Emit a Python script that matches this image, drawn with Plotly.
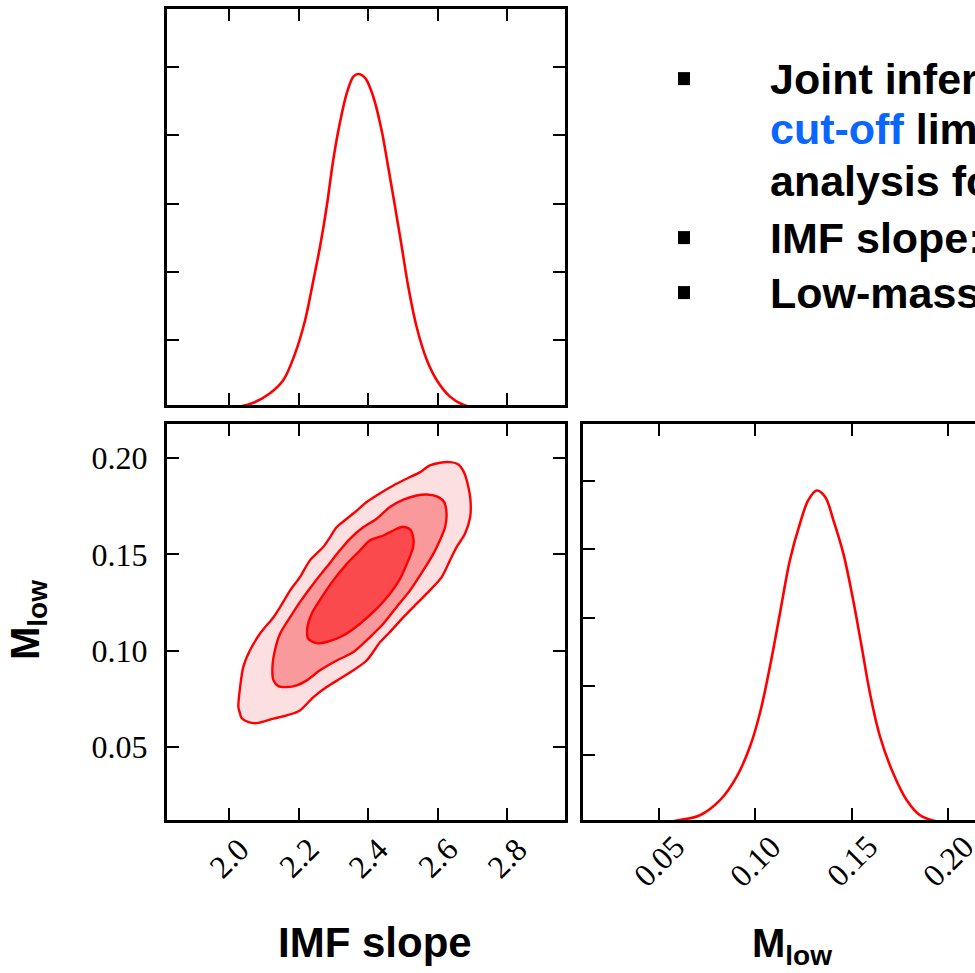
import plotly.graph_objects as go

# ---------------- data ----------------
# 1D marginal of IMF slope (arbitrary density units)
imf_x = [1.950, 2.000, 2.070, 2.118, 2.156, 2.190, 2.219, 2.243, 2.262, 2.281, 2.300, 2.319, 2.339,
         2.358, 2.372, 2.392, 2.415, 2.439, 2.458, 2.478, 2.497, 2.516, 2.540, 2.569, 2.598,
         2.636, 2.674, 2.720, 2.850]
imf_pdf = [0.00, 0.00, 0.08, 0.22, 0.41, 0.80, 1.29, 1.88, 2.37, 2.95, 3.64, 4.18, 4.62,
           4.86, 4.90, 4.84, 4.57, 4.08, 3.54, 2.95, 2.37, 1.78, 1.19, 0.71, 0.41,
           0.17, 0.05, 0.00, 0.00]

# 1D marginal of M_low
mlow_x = [0.0500, 0.0609, 0.0713, 0.0817, 0.0903, 0.0972, 0.1024, 0.1076, 0.1128, 0.1180,
          0.1232, 0.1275, 0.1319, 0.1362, 0.1405, 0.1457, 0.1508, 0.1552, 0.1595, 0.1647,
          0.1716, 0.1786, 0.1855, 0.1941, 0.2050]
mlow_pdf = [0.00, 0.05, 0.12, 0.34, 0.68, 1.12, 1.61, 2.29, 3.07, 3.85,
            4.38, 4.72, 4.86, 4.77, 4.43, 3.94, 3.26, 2.58, 1.90, 1.27,
            0.73, 0.34, 0.12, 0.03, 0.00]

# 2D credible contours (IMF slope, M_low)
outer_x = [2.032, 2.027, 2.032, 2.041, 2.060, 2.089, 2.128, 2.147, 2.176, 2.204, 2.233, 2.271,
           2.291, 2.310, 2.339, 2.363, 2.396, 2.435, 2.473, 2.511, 2.550, 2.578, 2.607, 2.636,
           2.660, 2.676, 2.689, 2.695, 2.694, 2.679, 2.655, 2.636, 2.612, 2.578, 2.540, 2.502,
           2.463, 2.435, 2.396, 2.358, 2.319, 2.281, 2.243, 2.204, 2.166, 2.128, 2.080, 2.056,
           2.036]
outer_y = [0.0673, 0.0707, 0.0811, 0.0915, 0.1001, 0.1088, 0.1174, 0.1226, 0.1313, 0.1382,
           0.1469, 0.1538, 0.1590, 0.1642, 0.1685, 0.1720, 0.1772, 0.1818, 0.1858, 0.1893,
           0.1927, 0.1962, 0.1976, 0.1979, 0.1967, 0.1927, 0.1849, 0.1780, 0.1694, 0.1607,
           0.1538, 0.1469, 0.1382, 0.1313, 0.1244, 0.1174, 0.1097, 0.1045, 0.0949, 0.0898,
           0.0854, 0.0811, 0.0759, 0.0690, 0.0664, 0.0647, 0.0624, 0.0629, 0.0650]

mid_x = [2.128, 2.125, 2.132, 2.147, 2.176, 2.204, 2.243, 2.281, 2.319, 2.348, 2.387, 2.425,
         2.463, 2.502, 2.540, 2.569, 2.598, 2.619, 2.626, 2.622, 2.607, 2.588, 2.559, 2.521,
         2.482, 2.444, 2.406, 2.358, 2.310, 2.262, 2.224, 2.195, 2.166, 2.142]
mid_y = [0.0846, 0.0915, 0.1001, 0.1088, 0.1174, 0.1252, 0.1348, 0.1434, 0.1521, 0.1581,
         0.1642, 0.1685, 0.1746, 0.1784, 0.1806, 0.1811, 0.1801, 0.1772, 0.1711, 0.1642,
         0.1573, 0.1503, 0.1417, 0.1313, 0.1226, 0.1140, 0.1071, 0.0993, 0.0949, 0.0898,
         0.0846, 0.0820, 0.0811, 0.0816]

inner_x = [2.228, 2.225, 2.238, 2.267, 2.300, 2.339, 2.377, 2.406, 2.444, 2.473, 2.497, 2.519,
           2.530, 2.530, 2.516, 2.492, 2.463, 2.425, 2.377, 2.329, 2.281, 2.252]
inner_y = [0.1062, 0.1114, 0.1192, 0.1278, 0.1365, 0.1451, 0.1521, 0.1573, 0.1598, 0.1624,
           0.1642, 0.1633, 0.1590, 0.1538, 0.1469, 0.1373, 0.1296, 0.1218, 0.1140, 0.1079,
           0.1045, 0.1039]

imf_ticks = [2.0, 2.2, 2.4, 2.6, 2.8]
imf_ticklabels = ["2.0", "2.2", "2.4", "2.6", "2.8"]
mlow_ticks = [0.05, 0.10, 0.15, 0.20]
mlow_ticklabels = ["0.05", "0.10", "0.15", "0.20"]
pdf_ticks = [1, 2, 3, 4, 5]

bullet_lines = [
    "Joint inference",
    '<span style="color:#0a66ff">cut-off</span> limit',
    "analysis for",
    "IMF slope:",
    "Low-mass",
]
bullet_flags = [True, False, False, True, True]

# ---------------- figure ----------------
W, H = 975, 973
RED = "#ff0000"
SERIF = "Liberation Serif, DejaVu Serif, serif"
SANS = "Liberation Sans, Arial, sans-serif"

def px_x(p):
    return p / W

def px_y(p):
    return 1 - p / H

fig = go.Figure()

# top-left marginal
fig.add_trace(go.Scatter(x=imf_x, y=imf_pdf, mode="lines", line=dict(color=RED, width=2.6, shape="spline"),
                         xaxis="x", yaxis="y", showlegend=False, hoverinfo="skip"))

# 2D contours
for cx, cy, fc in [(outer_x, outer_y, "rgb(252,223,224)"),
                   (mid_x, mid_y, "rgb(250,153,156)"),
                   (inner_x, inner_y, "rgb(251,74,77)")]:
    fig.add_trace(go.Scatter(x=cx + [cx[0]], y=cy + [cy[0]], mode="lines", fill="toself", fillcolor=fc,
                             line=dict(color=RED, width=2.4, shape="spline", smoothing=0.8),
                             xaxis="x2", yaxis="y2", showlegend=False, hoverinfo="skip"))

# bottom-right marginal
fig.add_trace(go.Scatter(x=mlow_x, y=mlow_pdf, mode="lines", line=dict(color=RED, width=2.6, shape="spline"),
                         xaxis="x3", yaxis="y3", showlegend=False, hoverinfo="skip"))

common = dict(showgrid=False, zeroline=False, showline=True, linecolor="black", linewidth=3,
              ticks="inside", ticklen=12, tickwidth=1.5, tickcolor="black")

left_dom = [px_x(167), px_x(565)]
right_dom = [px_x(583), 1.0]
top_dom = [px_y(405), px_y(9)]
bot_dom = [px_y(820), px_y(424)]

imf_range = [1.8216, 2.9669]
mlow_yrange = [0.0121, 0.2177]
mlow_xrange = [0.0106, 0.2140]
pdf_range_top = [0.047, 5.853]
pdf_range_bot = [0.051, 5.832]

fig.update_layout(
    width=W, height=H, margin=dict(l=0, r=0, t=0, b=0),
    paper_bgcolor="white", plot_bgcolor="white", showlegend=False,
    xaxis=dict(domain=left_dom, anchor="y", range=imf_range, tickvals=imf_ticks,
               showticklabels=False, mirror="ticks", **common),
    yaxis=dict(domain=top_dom, anchor="x", range=pdf_range_top, tickvals=pdf_ticks,
               showticklabels=False, mirror="ticks", **common),
    xaxis2=dict(domain=left_dom, anchor="y2", range=imf_range, tickvals=imf_ticks,
                showticklabels=False, mirror="ticks", **common),
    yaxis2=dict(domain=bot_dom, anchor="x2", range=mlow_yrange, tickvals=mlow_ticks,
                ticktext=mlow_ticklabels, showticklabels=True, mirror="ticks",
                tickfont=dict(family=SERIF, size=32, color="black"), ticklabelstandoff=10, **common),
    xaxis3=dict(domain=right_dom, anchor="y3", range=mlow_xrange, tickvals=mlow_ticks,
                showticklabels=False, mirror="ticks", **common),
    yaxis3=dict(domain=bot_dom, anchor="x3", range=pdf_range_bot, tickvals=pdf_ticks,
                showticklabels=False, mirror=False, **common),
    yaxis4=dict(domain=bot_dom, anchor="x3", overlaying="y3", side="right", range=pdf_range_bot,
                tickvals=pdf_ticks, showticklabels=False, showgrid=False, zeroline=False,
                showline=False, ticks="inside", ticklen=7, tickwidth=1.5, tickcolor="black"),
)

annotations = []
# rotated x tick labels
for v, t in zip(imf_ticks, imf_ticklabels):
    annotations.append(dict(x=v, xref="x2", y=px_y(858), yref="paper", text=t, textangle=-45,
                            showarrow=False, xanchor="center", yanchor="middle",
                            font=dict(family=SERIF, size=32, color="black")))
for v, t in zip(mlow_ticks, mlow_ticklabels):
    annotations.append(dict(x=v, xref="x3", y=px_y(861), yref="paper", text=t, textangle=-45,
                            showarrow=False, xanchor="center", yanchor="middle",
                            font=dict(family=SERIF, size=32, color="black")))

# axis titles
annotations.append(dict(x=px_x(375), y=px_y(942), xref="paper", yref="paper", text="<b>IMF slope</b>",
                        showarrow=False, xanchor="center", yanchor="middle",
                        font=dict(family=SANS, size=42, color="black")))
annotations.append(dict(x=px_x(750), y=px_y(946), xref="paper", yref="paper", text="<b>M<sub>low</sub></b>",
                        showarrow=False, xanchor="left", yanchor="middle",
                        font=dict(family=SANS, size=40, color="black")))
annotations.append(dict(x=px_x(28), y=px_y(620), xref="paper", yref="paper", text="<b>M<sub>low</sub></b>",
                        showarrow=False, xanchor="center", yanchor="middle", textangle=-90,
                        font=dict(family=SANS, size=40, color="black")))

# bullet text block
line_centers = [78.6, 128.6, 180.6, 237.6, 292.6]
shapes = []
for txt, yc, has_bullet in zip(bullet_lines, line_centers, bullet_flags):
    annotations.append(dict(x=px_x(768), y=px_y(yc), xref="paper", yref="paper", text="<b>" + txt + "</b>",
                            showarrow=False, xanchor="left", yanchor="middle", align="left",
                            font=dict(family=SANS, size=43, color="black")))
    if has_bullet:
        shapes.append(dict(type="rect", xref="paper", yref="paper", x0=px_x(678), x1=px_x(690),
                           y0=px_y(yc + 6.5), y1=px_y(yc - 6.5), fillcolor="black", line=dict(width=0)))

fig.update_layout(annotations=annotations, shapes=shapes)

fig.write_html("out.html")
